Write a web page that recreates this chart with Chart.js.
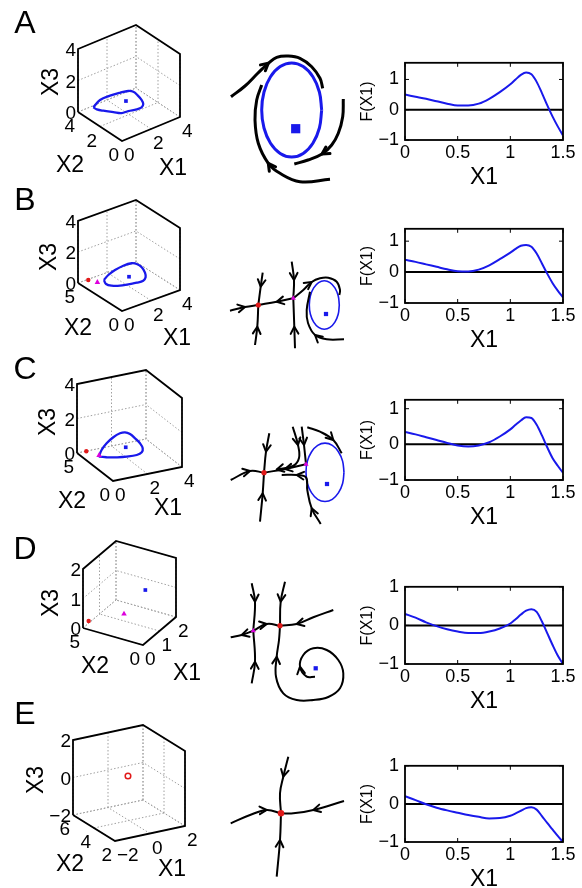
<!DOCTYPE html>
<html><head><meta charset="utf-8">
<script src="https://cdn.jsdelivr.net/npm/chart.js@4.4.0/dist/chart.umd.min.js"></script>
<style>
html,body{margin:0;padding:0;background:#fff;}
body{width:582px;height:888px;position:relative;overflow:hidden;font-family:"Liberation Sans",Arial,sans-serif;}
canvas{position:absolute;}
.lbl{position:absolute;white-space:nowrap;color:#000;line-height:1;z-index:5;}
</style></head><body>
<script>
// ================= DATA =================
const PANEL_LETTERS = ['A','B','C','D','E'];
const AXIS_NAMES = ['X1','X2','X3'];
const FX_LABEL = 'F(X1)';

// ---- F(X1) curves (right column) ----
const F_X1 = [0,0.1,0.2,0.3,0.4,0.5,0.6,0.7,0.8,0.9,1.0,1.05,1.1,1.15,1.2,1.25,1.3,1.35,1.4,1.45,1.5];
const F_A = [0.50,0.43,0.36,0.28,0.20,0.14,0.14,0.20,0.36,0.58,0.84,1.00,1.15,1.23,1.17,0.92,0.55,0.15,-0.22,-0.55,-0.85];
const F_B = [0.40,0.33,0.25,0.17,0.09,0.03,0.02,0.08,0.22,0.42,0.63,0.75,0.85,0.88,0.82,0.60,0.28,-0.05,-0.35,-0.60,-0.82];
const F_C = [0.35,0.28,0.20,0.12,0.04,-0.03,-0.06,-0.03,0.06,0.22,0.42,0.55,0.67,0.76,0.74,0.55,0.25,-0.08,-0.38,-0.60,-0.80];
const F_D = [0.30,0.20,0.08,-0.02,-0.10,-0.16,-0.20,-0.20,-0.16,-0.08,0.05,0.16,0.28,0.38,0.42,0.35,0.10,-0.20,-0.50,-0.78,-1.00];
const F_E = [0.20,0.10,-0.01,-0.10,-0.17,-0.23,-0.29,-0.34,-0.38,-0.37,-0.31,-0.25,-0.18,-0.11,-0.09,-0.15,-0.32,-0.50,-0.67,-0.84,-1.00];
const F_YMAX = [1.55,1.4,1.25,1.0,1.0];
const F_XTICKS = [0,0.5,1,1.5];
const F_YTICKS = [-1,0,1];

// ---- 3D state-space panels (left column) ----
const X1_LIM = [[0,4],[0,4],[0,4],[0,2],[-2,2]];
const X2_LIM = [[0,4],[0,5],[0,5],[0,5],[2,6]];
const X3_LIM = [[0,4],[0,4],[0,4],[0,2],[-2,2]];
const X1_TICKS = [[0,2,4],[0,2,4],[0,2,4],[0,1,2],[-2,0,2]];
const X2_TICKS = [[0,2,4],[0,5],[0,5],[0,5],[2,4,6]];
const X3_TICKS = [[0,2,4],[0,2,4],[0,2,4],[0,1,2],[-2,0,2]];
// limit cycles [X1, X2, X3]
const CYCLE_A = [[0.44,3.19,0.5],[1.20,3.58,0.5],[1.90,3.59,0.5],[2.51,3.49,0.5],[2.97,3.35,0.5],[3.14,3.11,0.5],[3.10,2.69,0.5],[2.96,2.11,0.5],[2.77,1.72,0.5],[2.49,1.50,0.5],[2.15,1.50,0.5],[1.69,1.65,0.5],[1.27,1.72,0.5],[0.99,2.09,0.5],[0.65,2.55,0.5],[0.46,2.90,0.5],[0.44,3.19,0.5]];
const CYCLE_B = [[0.81,3.39,0.5],[1.35,3.78,0.5],[1.99,4.07,0.5],[2.65,4.22,0.5],[3.19,4.15,0.5],[3.36,3.86,0.5],[3.35,3.28,0.5],[3.12,2.53,0.5],[2.83,1.98,0.5],[2.49,1.69,0.5],[2.07,1.73,0.5],[1.59,1.90,0.5],[1.12,2.08,0.5],[0.76,2.42,0.5],[0.63,2.85,0.5],[0.81,3.39,0.5]];
const CYCLE_C = [[0.64,3.45,0.2],[0.80,3.50,0.5],[1.22,3.81,0.7],[1.58,3.74,1.0],[2.12,4.11,1.0],[2.41,4.11,1.0],[2.54,3.72,1.0],[2.52,2.97,1.0],[2.45,2.12,1.0],[2.79,2.56,0.5],[2.51,2.02,0.5],[2.12,1.78,0.5],[1.56,1.83,0.5],[1.06,2.03,0.5],[0.91,3.05,0.2],[0.63,3.33,0.2],[0.64,3.45,0.2]];
const CYCLES = [CYCLE_A, CYCLE_B, CYCLE_C, null, null];
const FOCUS_PT = [[2.23,2.58,0.5],[2.14,2.73,0.5],[2.07,3.19,0.5],[1.40,1.73,1.0],null];
const RED_PT = [null,[0.66,4.92,0],[0.53,4.98,0],[0.30,4.94,0.1],[0.44,4.83,0]];
const MAG_PT = [null,[0.90,4.28,0],[0.88,4.04,0],[0.90,2.82,0.3],null];

// ---- schematic phase portraits (middle column, local sketch units) ----
const PH_A_CURVES = [
  [[31,76.7],[45,66],[58,53],[68.3,43.3],[76.7,37.3],[88.3,36],[100,38.3],[111.7,46.7],[120,58.3],[122.7,68.3]],
  [[143.3,79],[142.7,96.7],[138.3,113.3],[131.7,125],[122,134],[108,140],[94.3,144]],
  [[130,159.3],[100,161.7],[80,153.3],[68.3,143.3],[58.3,123.3],[55,100],[56.7,80],[61.7,65]]
];
const PH_A_ARROWS = [[0,3],[1,4],[2,3]];
const PH_A_CYCLE = [[121.7,90],[119.4,108],[112.9,123.2],[103.2,133.4],[91.7,137],[80.2,133.4],[70.5,123.2],[64,108],[61.7,90],[64,72],[70.5,56.8],[80.2,46.6],[91.7,43],[103.2,46.6],[112.9,56.8],[119.4,72],[121.7,90]];

const PH_B_CURVES = [
  [[30,90.7],[45,87],[58.3,85]],
  [[62.7,52.7],[60.7,66.7],[58.3,85]],
  [[55,125],[57.3,106.7],[58.3,85]],
  [[93.3,78.3],[76.7,81.7],[58.3,85]],
  [[91.7,41.7],[94,60],[93.3,78.3]],
  [[95,128.3],[94.3,106.7],[93.3,78.3]],
  [[93.3,78.3],[103.3,70],[111.7,62],[120,58.3],[128.3,57.7],[136.7,61.7],[140,70],[139.3,75]],
  [[144,119.3],[126.7,119.3],[115,115],[108,103],[106.7,90],[110,71.7]]
];
const PH_B_ARROWS = [[0,1],[1,1],[2,1],[3,1],[4,1],[5,1],[6,2],[7,2]];
const PH_B_CYCLE = [[139.3,85],[138.2,94.3],[134.9,102.1],[130,107.4],[124.3,109.2],[118.6,107.4],[113.7,102.1],[110.4,94.3],[109.3,85],[110.4,75.7],[113.7,67.9],[118.6,62.6],[124.3,60.8],[130,62.6],[134.9,67.9],[138.2,75.7],[139.3,85]];

const PH_C_CURVES = [
  [[30.7,80],[50,71],[64,72.7]],
  [[69.3,33.3],[66,51.7],[64,72.7]],
  [[60,121.7],[62.7,93.3],[64,72.7]],
  [[106,64.3],[85,69],[64,72.7]],
  [[92.7,26.7],[98,45],[99,58],[93,66],[76.7,69.5]],
  [[101.7,26.7],[104,45],[106,64.3]],
  [[120.7,124],[111.7,108.3],[107.3,90],[106,77.3],[96.7,75],[81.7,75]],
  [[107.3,27.3],[120,31.7],[133.3,40],[141.7,53.3]]
];
const PH_C_ARROWS = [[0,1],[1,1],[2,1],[3,1],[4,1],[4,4],[5,1],[6,1],[6,4],[7,2]];
const PH_C_CYCLE = [[144,72.3],[142.6,83.5],[138.4,92.9],[132.3,99.3],[125,101.5],[117.7,99.3],[111.6,92.9],[107.4,83.5],[106,72.3],[107.4,61.1],[111.6,51.7],[117.7,45.3],[125,43.1],[132.3,45.3],[138.4,51.7],[142.6,61.1],[144,72.3]];

const PH_D_CURVES = [
  [[53.3,100.7],[41.7,105],[30.7,107.3]],
  [[51.7,53.3],[55,71.7],[53.3,100.7]],
  [[51.7,153.3],[55,131.7],[53.3,100.7]],
  [[53.3,100.7],[66.7,94],[80,95.7]],
  [[85,51.7],[80.7,71.7],[80,95.7]],
  [[133.3,80],[113.3,87.3],[96.7,94],[80,95.7]],
  [[115,146.7],[106.7,146.7],[100,136.7],[103.3,125],[113.3,118.3],[126.7,120],[138.3,130],[143.3,143.3],[140,158.3],[128.3,167],[113.3,170],[96.7,170],[83.3,163.3],[76,146.7],[76.7,126.7],[79,110],[80,95.7]]
];
const PH_D_ARROWS = [[0,1],[1,1],[2,1],[3,1],[4,1],[5,2],[6,2],[6,14]];

const PH_E_CURVES = [
  [[88.3,16.7],[83.3,36.7],[80,53.3],[81,73.3]],
  [[76.7,136.7],[80,100],[81,73.3]],
  [[30.7,83.3],[50,75],[66.7,70],[81,73.3]],
  [[144,61],[113.3,70],[93.3,73.3],[81,73.3]]
];
const PH_E_ARROWS = [[0,1],[1,1],[2,2],[3,1]];

const PH_CURVES = [PH_A_CURVES, PH_B_CURVES, PH_C_CURVES, PH_D_CURVES, PH_E_CURVES];
const PH_ARROWS = [PH_A_ARROWS, PH_B_ARROWS, PH_C_ARROWS, PH_D_ARROWS, PH_E_ARROWS];
const PH_CYCLES = [PH_A_CYCLE, PH_B_CYCLE, PH_C_CYCLE, null, null];
const PH_FOCUS = [[95.7,108.7],[126,94],[127,84],[115.7,138.3],null];
const PH_RED = [null,[58.3,85],[64,72.7],[80,95.7],[81,73.3]];
const PH_MAG = [null,[93.3,78.3],[106,64.3],[53.3,100.7],null];

// ================= LAYOUT / STYLE =================
const FONT = '"Liberation Sans", Arial, sans-serif';
const BLUE = 'rgb(25,25,235)';
const RED = 'rgb(225,25,25)';
const MAGENTA = 'rgb(220,0,220)';
const ROW3D = [[0,0,200,180],[0,180,200,170],[0,350,200,170],[0,520,200,180],[0,700,200,188]];
const VIEW = [
  {o:[122,141], u:[58,-24], v:[-44,-29], h:63},
  {o:[122,311], u:[58,-21], v:[-44,-28], h:62},
  {o:[113,481], u:[69,-14], v:[-36,-28], h:69},
  {o:[143,645], u:[33,-28], v:[-60,-17], h:59},
  {o:[115,841], u:[70,-15], v:[-42,-26], h:75}
];
const LETTER_POS = [[25,22],[25,199],[25,368],[25,548],[25,713]];
const X3LBL_POS = [[50,82],[48,257],[47,422],[50,603],[35,780]];
const X2LBL_POS = [[70,164],[78,327],[72,500],[95,665],[70,863]];
const X1LBL_POS = [[173,167],[177,337],[168,507],[187,672],[172,868]];
const PH_RECT = [[200,20,160,180],[200,220,160,130],[200,400,160,130],[200,530,160,175],[200,740,160,140]];
const F_PT = [58,224,395,582,761];
const F_PB = [140,303,480,664,842];

function fmt(v){ return v < 0 ? '\u2212' + Math.abs(v) : String(v); }

function makeCanvas(x,y,w,h){
  const c = document.createElement('canvas');
  c.style.left = x+'px'; c.style.top = y+'px';
  c.style.width = w+'px'; c.style.height = h+'px';
  c.width = w; c.height = h;
  document.body.appendChild(c);
  return c;
}
function addText(txt, x, y, size, align, rot){
  const d = document.createElement('div');
  d.className = 'lbl'; d.textContent = txt;
  d.style.left = x+'px'; d.style.top = y+'px'; d.style.fontSize = size+'px';
  const tx = align === 'r' ? '-100%' : (align === 'l' ? '0' : '-50%');
  d.style.transform = 'translate(' + tx + ',-50%)' + (rot ? ' rotate(' + rot + 'deg)' : '');
  document.body.appendChild(d);
}
const baseOpts = () => ({
  responsive:false, animation:false, events:[],
  layout:{padding:0, autoPadding:false},
  plugins:{legend:{display:false}, tooltip:{enabled:false}}
});

// ---------- plugins ----------
const arrowPlugin = {
  id:'arrows',
  afterDatasetsDraw(chart){
    const list = (chart.options.plugins.arrows && chart.options.plugins.arrows.list) || [];
    const ctx = chart.ctx;
    list.forEach(([di, pi]) => {
      const pts = chart.getDatasetMeta(di).data;
      const p = pts[pi];
      const a = pts[Math.max(0, pi-1)], b = pts[Math.min(pts.length-1, pi+1)];
      let dx = b.x - a.x, dy = b.y - a.y;
      const L = Math.hypot(dx, dy) || 1; dx /= L; dy /= L;
      const len = 8, ang = 0.5, c = Math.cos(ang), s = Math.sin(ang);
      const bx = -dx, by = -dy;
      ctx.save();
      ctx.strokeStyle = '#000';
      ctx.lineWidth = chart.data.datasets[di].borderWidth;
      ctx.lineCap = 'round'; ctx.lineJoin = 'round';
      ctx.beginPath();
      ctx.moveTo(p.x + len*(bx*c - by*s), p.y + len*(bx*s + by*c));
      ctx.lineTo(p.x, p.y);
      ctx.lineTo(p.x + len*(bx*c + by*s), p.y + len*(-bx*s + by*c));
      ctx.stroke();
      ctx.restore();
    });
  }
};
const boxPlugin = {
  id:'box',
  afterDatasetsDraw(chart){
    const {ctx, chartArea:a, scales:{x, y}} = chart;
    ctx.save();
    ctx.strokeStyle = '#000';
    ctx.lineWidth = 1;
    ctx.beginPath();
    x.ticks.forEach(t => { const px = x.getPixelForValue(t.value);
      ctx.moveTo(px, a.bottom); ctx.lineTo(px, a.bottom-4);
      ctx.moveTo(px, a.top); ctx.lineTo(px, a.top+4); });
    y.ticks.forEach(t => { const py = y.getPixelForValue(t.value);
      ctx.moveTo(a.left, py); ctx.lineTo(a.left+4, py);
      ctx.moveTo(a.right, py); ctx.lineTo(a.right-4, py); });
    ctx.stroke();
    ctx.lineWidth = 1.8;
    ctx.strokeRect(a.left, a.top, a.right-a.left, a.bottom-a.top);
    ctx.restore();
  }
};

// ---------- right column: F(X1) ----------
const F_SERIES = [F_A, F_B, F_C, F_D, F_E];
function fChart(i){
  const PT = F_PT[i], PB = F_PB[i];
  const c = makeCanvas(360, PT-12, 222, (PB-PT)+12+49);
  const o = baseOpts();
  o.layout = {padding:{top:12, right:19, left:0, bottom:0}, autoPadding:false};
  o.scales = {
    x:{type:'linear', min:0, max:1.5,
       grid:{display:false, drawTicks:false}, border:{display:false},
       afterBuildTicks:s => { s.ticks = F_XTICKS.map(v => ({value:v})); },
       ticks:{font:{size:18, family:FONT}, color:'#000', padding:2, maxRotation:0, autoSkip:false, callback:fmt},
       title:{display:true, text:AXIS_NAMES[0], font:{size:23, family:FONT, lineHeight:1}, color:'#000', padding:0},
       afterFit:s => { s.height = 49; }},
    y:{type:'linear', min:-1, max:F_YMAX[i],
       grid:{display:false, drawTicks:false}, border:{display:false},
       afterBuildTicks:s => { s.ticks = F_YTICKS.map(v => ({value:v})); },
       ticks:{font:{size:18, family:FONT}, color:'#000', padding:6, autoSkip:false, callback:fmt},
       title:{display:true, text:FX_LABEL, font:{size:16, family:FONT, lineHeight:1}, color:'#000', padding:0},
       afterFit:s => { s.width = 45; }}
  };
  new Chart(c, {
    type:'line',
    data:{datasets:[
      {data:F_X1.map((x,k) => ({x, y:F_SERIES[i][k]})), borderColor:BLUE, borderWidth:2, pointRadius:0, cubicInterpolationMode:'monotone'},
      {data:[{x:F_XTICKS[0], y:0},{x:F_XTICKS[F_XTICKS.length-1], y:0}], borderColor:'#000', borderWidth:2, pointRadius:0}
    ]},
    options:o, plugins:[boxPlugin]
  });
}

// ---------- left column: 3D cubes ----------
function proj(i, p){
  const V = VIEW[i];
  const n1 = (p[0]-X1_LIM[i][0])/(X1_LIM[i][1]-X1_LIM[i][0]);
  const n2 = (p[1]-X2_LIM[i][0])/(X2_LIM[i][1]-X2_LIM[i][0]);
  const n3 = (p[2]-X3_LIM[i][0])/(X3_LIM[i][1]-X3_LIM[i][0]);
  return {x:V.o[0] + n1*V.u[0] + n2*V.v[0], y:V.o[1] + n1*V.u[1] + n2*V.v[1] - n3*V.h};
}
function cubeChart(i){
  const [rx, ry, rw, rh] = ROW3D[i];
  const c = makeCanvas(rx, ry, rw, rh);
  const [a1, b1] = X1_LIM[i], [a2, b2] = X2_LIM[i], [a3, b3] = X3_LIM[i];
  const P = p => proj(i, p);
  const ds = [];
  const pt = (p, style, color, r, fill) => ds.push({data:[P(p)], showLine:false, pointStyle:style, pointRadius:r,
    backgroundColor:fill === false ? 'rgba(0,0,0,0)' : color, borderColor:color, borderWidth:fill === false ? 1.5 : 0, clip:false});
  if (FOCUS_PT[i]) pt(FOCUS_PT[i], 'rect', BLUE, 2.6);
  if (MAG_PT[i]) pt(MAG_PT[i], 'triangle', MAGENTA, 3.2);
  if (RED_PT[i]) pt(RED_PT[i], 'circle', RED, i === 4 ? 2.8 : 2.2, i === 4 ? false : true);
  if (CYCLES[i]) ds.push({data:CYCLES[i].map(P), showLine:true, pointRadius:0, borderColor:BLUE, borderWidth:2.3, tension:0.4, clip:false});
  // box silhouette
  ds.push({data:[[a1,b2,a3],[a1,b2,b3],[b1,b2,b3],[b1,a2,b3],[b1,a2,a3],[a1,a2,a3],[a1,b2,a3]].map(P),
    showLine:true, pointRadius:0, borderColor:'#000', borderWidth:1.8, tension:0, clip:false});
  // dotted grid on back planes
  const seg = (p, q) => ds.push({data:[P(p), P(q)], showLine:true, pointRadius:0, borderColor:'#a0a0a0', borderWidth:1, borderDash:[1.5,2], clip:false});
  X1_TICKS[i].forEach(t => { seg([t,a2,a3],[t,b2,a3]); seg([t,b2,a3],[t,b2,b3]); });
  X2_TICKS[i].forEach(t => { seg([a1,t,a3],[b1,t,a3]); seg([b1,t,a3],[b1,t,b3]); });
  X3_TICKS[i].forEach(t => { seg([a1,b2,t],[b1,b2,t]); seg([b1,a2,t],[b1,b2,t]); });
  const o = baseOpts();
  o.scales = {x:{type:'linear', display:false, min:rx, max:rx+rw}, y:{type:'linear', display:false, min:ry, max:ry+rh, reverse:true}};
  new Chart(c, {type:'scatter', data:{datasets:ds}, options:o});
  // tick labels
  X1_TICKS[i].forEach(t => { const q = P([t,a2,a3]); addText(fmt(t), q.x+2, q.y+13, 19, 'l'); });
  X2_TICKS[i].forEach(t => { const q = P([a1,t,a3]); addText(fmt(t), q.x-3, q.y+13, 19, 'r'); });
  X3_TICKS[i].forEach(t => { const q = P([a1,b2,t]); addText(fmt(t), q.x-2, q.y, 19, 'r'); });
  addText(PANEL_LETTERS[i], LETTER_POS[i][0], LETTER_POS[i][1], 32, 'c');
  addText(AXIS_NAMES[2], X3LBL_POS[i][0], X3LBL_POS[i][1], 23, 'c', -90);
  addText(AXIS_NAMES[1], X2LBL_POS[i][0], X2LBL_POS[i][1], 23, 'c');
  addText(AXIS_NAMES[0], X1LBL_POS[i][0], X1LBL_POS[i][1], 23, 'c');
}

// ---------- middle column: phase portraits ----------
function phaseChart(i){
  const [px, py, pw, ph] = PH_RECT[i];
  const c = makeCanvas(px, py, pw, ph);
  const lw = i === 0 ? 3 : 2;
  const ds = PH_CURVES[i].map(cv => ({data:cv.map(([x,y]) => ({x,y})), showLine:true, pointRadius:0,
    borderColor:'#000', borderWidth:lw, tension:0.4, clip:false}));
  if (PH_CYCLES[i]) ds.push({data:PH_CYCLES[i].map(([x,y]) => ({x,y})), showLine:true, pointRadius:0,
    borderColor:BLUE, borderWidth:i === 0 ? 3 : 1.6, tension:0.4, clip:false});
  const o = baseOpts();
  o.scales = {x:{type:'linear', display:false, min:0, max:pw}, y:{type:'linear', display:false, min:0, max:ph, reverse:true}};
  const marks = [];
  if (PH_FOCUS[i]) marks.push({data:[{x:PH_FOCUS[i][0], y:PH_FOCUS[i][1]}], pointStyle:'rect', pointRadius:i === 0 ? 6.5 : 3, backgroundColor:BLUE});
  if (PH_RED[i]) marks.push({data:[{x:PH_RED[i][0], y:PH_RED[i][1]}], pointStyle:'circle', pointRadius:i === 4 ? 3.2 : 2.6, backgroundColor:RED});
  if (PH_MAG[i]) marks.push({data:[{x:PH_MAG[i][0], y:PH_MAG[i][1]}], pointStyle:'triangle', pointRadius:3, backgroundColor:MAGENTA});
  marks.forEach(m => ds.push(Object.assign({showLine:false, borderWidth:0, clip:false, order:-1}, m)));
  o.plugins.arrows = {list:PH_ARROWS[i]};
  new Chart(c, {type:'scatter', data:{datasets:ds}, options:o, plugins:[arrowPlugin]});
}

for (let i = 0; i < 5; i++){ cubeChart(i); phaseChart(i); fChart(i); }
</script>
</body></html>
